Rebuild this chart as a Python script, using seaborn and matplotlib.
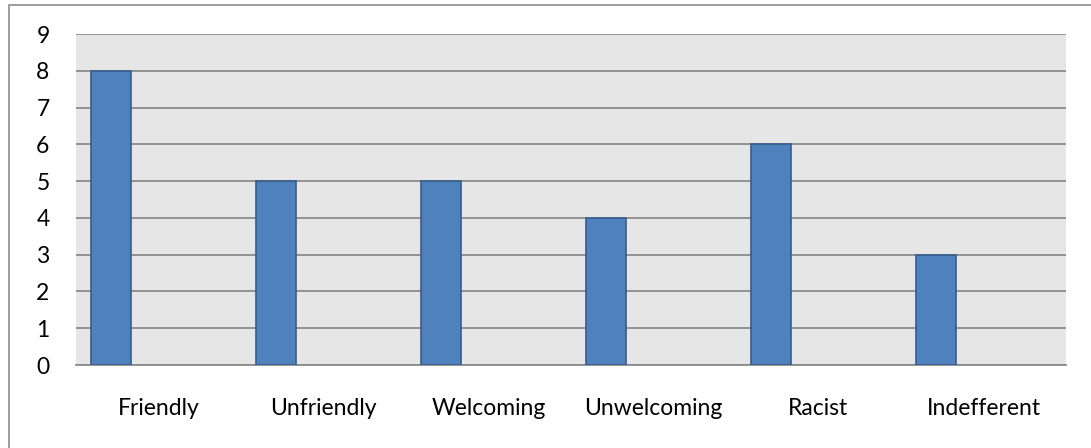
import pandas as pd
import matplotlib.pyplot as plt
import seaborn as sns
from matplotlib.patches import Rectangle

# Chart data
categories = ['Friendly', 'Unfriendly', 'Welcoming', 'Unwelcoming', 'Racist', 'Indefferent']
counts = [8, 5, 5, 4, 6, 3]
y_ticks = list(range(0, 10))

# Excel-style layout: the single series sits in the first of three slots
series_names = ['Series1', 'Series2', 'Series3']
df = pd.DataFrame({'category': categories, 'count': counts, 'series': series_names[0]})

sns.set_theme(style='white')
plt.rcParams['font.family'] = ['Lato', 'DejaVu Sans']

fig = plt.figure(figsize=(10.91, 4.48), dpi=100)
ax = fig.add_axes([76 / 1091, 1 - 365 / 448, 990 / 1091, 331 / 448])

sns.barplot(data=df, x='category', y='count', hue='series', hue_order=series_names,
            order=categories, dodge=True, width=0.86, gap=0.156,
            palette=['#4F81BD'] * 3, edgecolor='#385D8A', linewidth=1.2,
            saturation=1, legend=False, ax=ax, zorder=3)

ax.set_facecolor('#E6E6E6')
ax.set_xlim(-0.5, len(categories) - 0.5)
ax.set_ylim(0, 9)
ax.set_yticks(y_ticks)
ax.yaxis.grid(True, color='#8C8C8C', linewidth=1.3, zorder=1)
ax.set_axisbelow(True)
for side in ['top', 'right', 'left']:
    ax.spines[side].set_visible(False)
ax.spines['bottom'].set_color('#8C8C8C')
ax.spines['bottom'].set_linewidth(1.3)
ax.tick_params(axis='y', length=0, pad=19, labelsize=16.5, colors='black')
ax.tick_params(axis='x', length=0, pad=24, labelsize=16.5, colors='black')
ax.set_xlabel('')
ax.set_ylabel('')

# outer chart border
fig.patches.append(Rectangle((8.5 / 1091, -0.05), 1.2, 1.05 - 5.5 / 448,
                             transform=fig.transFigure, fill=False,
                             edgecolor='#8C8C8C', linewidth=1.2))

fig.savefig('out.png', dpi=100)
